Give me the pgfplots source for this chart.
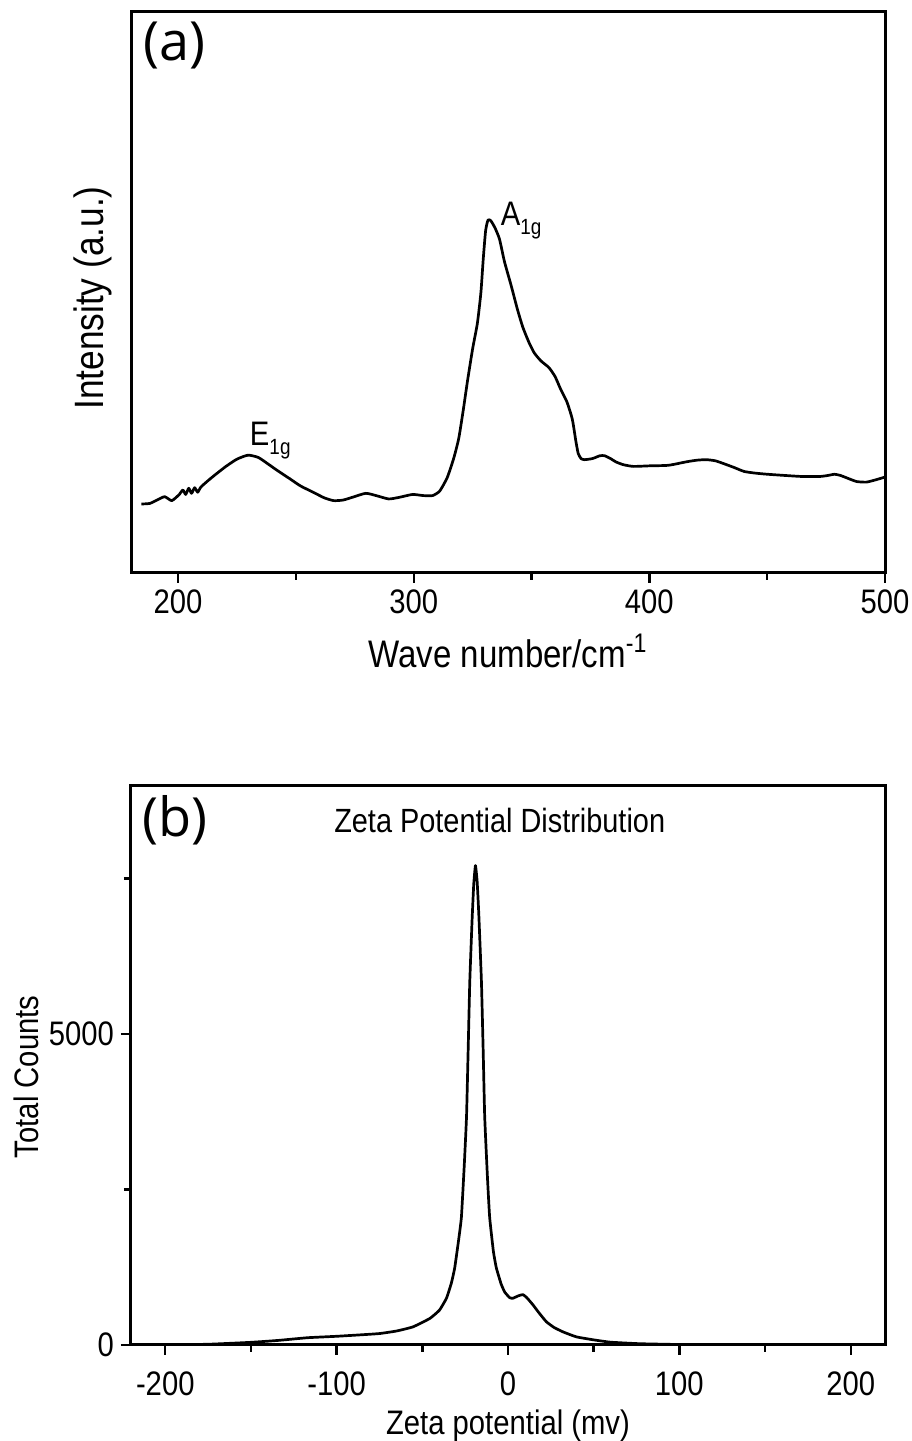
\documentclass[border=0pt]{standalone}
\usepackage{pgfplots}
\pgfplotsset{compat=1.18}
\usepackage{fontspec}
\setmainfont{Liberation Sans}[FakeStretch=0.86]
\newfontfamily\labfont{Open Sans}

\pgfplotstableread{
x y
184.4 12.3
188 12.4
191 13.0
194.3 13.6
197.3 12.9
200.5 14.0
202 14.8
203.2 14.0
204.5 15.1
205.7 14.2
207 15.2
208.3 14.4
209.6 15.3
212.8 16.5
216 17.6
220.3 19.0
225 20.3
229.7 21.0
234 20.6
237.6 19.6
242 18.3
247.4 16.8
252 15.5
257.3 14.4
262 13.4
266 12.9
270 13.0
274 13.5
279.6 14.2
284 13.8
289.4 13.2
294 13.5
299.5 14.0
304 13.8
308 13.8
311 14.6
314.2 17.0
317 20.5
319.1 24.0
321 29
322.8 34.2
325 40
327 44.5
328.5 50
329.5 56
330.5 61
331.5 62.9
332.7 62.8
334.5 61.5
336.4 59.5
338.5 55.5
341.3 51.3
344 47
346.3 43.8
349 41
351.2 39.2
354 37.8
357.4 36.6
360 35
362.3 32.8
365 30.5
367.3 27.4
368.8 23.5
369.8 21.3
371 20.4
372.5 20.2
375.9 20.4
379 20.9
381 20.9
383.5 20.4
385.8 19.8
389 19.3
393.2 19.0
400 19.1
408.1 19.2
415.5 19.8
420 20.1
424.1 20.2
428 20.0
431.5 19.5
436 18.8
440.2 18.1
445 17.8
450.1 17.6
457 17.4
464.9 17.2
472.3 17.2
476 17.4
478.5 17.6
481 17.4
484.7 16.8
488 16.3
492.1 16.2
496 16.6
500 17.1
}\ramantable

\pgfplotstableread{
x y
-219 0
-200 3
-175 12
-150 43
-134 74
-117 117
-100 140
-85 165
-75 184
-65 225
-55.4 292
-45.6 427
-40 560
-35.9 752
-33 1000
-31.1 1239
-29 1650
-27.2 2051
-25.5 2900
-24.2 3674
-23.2 4800
-22.3 5839
-21 6800
-20 7400
-19 7706
-18 7450
-17 6900
-15.5 5839
-14.5 4750
-13.6 3674
-12 2700
-10.7 2051
-8.5 1500
-6.8 1239
-4 980
-1.9 850
1 760
2.9 752
6 790
8.7 810
11 760
14.6 644
18 520
22.4 373
27 280
32.1 211
40 130
51.5 76
60 45
76.7 21
100 8
130 2
160 0
220 0
}\zetatable

\pgfplotsset{
  common/.style={
    scale only axis, width=377pt, anchor=south west,
    axis line style={line width=1.5pt},
    every tick/.style={black, line width=1.2pt},
    tick align=outside, major tick length=5pt, minor tick length=3.5pt,
    xtick pos=bottom, ytick pos=left,
    tick label style={font=\fontsize{17}{19}\selectfont},
    /pgf/number format/assume math mode=true,
  }
}

\begin{document}
\begin{tikzpicture}
\useasboundingbox (0,0) rectangle (455.5pt,720.5pt);

% Panel (a)
\begin{axis}[common,
  at={(65.5pt,434pt)}, height=280.5pt,
  xmin=180, xmax=500, ymin=0, ymax=100,
  xtick={200,300,400,500}, xticklabels={200,300,400,500},
  minor xtick={250,350,450},
  ytick=\empty,
  xlabel={Wave number/cm\textsuperscript{-1}},
  ylabel={Intensity (a.u.)},
  xlabel style={font=\fontsize{19.2}{22}\selectfont, at={(axis description cs:0.5,0)}, anchor=base, yshift=-47.5pt},
  ylabel style={font=\fontsize{20.5}{23}\selectfont, at={(axis description cs:-0.0504,0.49)}, anchor=center},
]
\addplot[black, line width=1.35pt, line join=round, smooth, tension=0.35] table[x=x,y=y] {\ramantable};
\node[font=\labfont\fontsize{27}{30}\selectfont] at (axis description cs:0.058,0.941) {(a)};
\node[anchor=base west, font=\fontsize{17}{19}\selectfont] at (axis cs:227.5,22.8) {E\raisebox{-0.5ex}{\fontsize{11}{12}\selectfont 1g}};
\node[anchor=base west, font=\fontsize{17}{19}\selectfont] at (axis cs:334,62.0) {A\raisebox{-0.5ex}{\fontsize{11}{12}\selectfont 1g}};
\end{axis}

% Panel (b)
\begin{axis}[common,
  at={(65.5pt,48pt)}, height=280pt,
  xmin=-220, xmax=220, ymin=0, ymax=9000,
  xtick={-200,-100,0,100,200}, xticklabels={-200,-100,0,100,200},
  minor xtick={-150,-50,50,150},
  ytick={0,5000}, yticklabels={0,5000},
  minor ytick={2500,7500},
  xticklabel style={yshift=-5pt},
  xlabel={Zeta potential (mv)},
  ylabel={Total Counts},
  xlabel style={font=\fontsize{17}{19}\selectfont, at={(axis description cs:0.5,0)}, anchor=base, yshift=-45pt},
  ylabel style={font=\fontsize{17}{19}\selectfont, at={(axis description cs:-0.139,0.479)}, anchor=center},
]
\addplot[black, line width=1.35pt, line join=round, smooth, tension=0.25] table[x=x,y=y] {\zetatable};
\node[font=\labfont\fontsize{27}{30}\selectfont] at (axis description cs:0.058,0.9375) {(b)};
\node[font=\fontsize{16.8}{19}\selectfont] at (axis description cs:0.489,0.9375) {Zeta Potential Distribution};
\end{axis}
\end{tikzpicture}
\end{document}
